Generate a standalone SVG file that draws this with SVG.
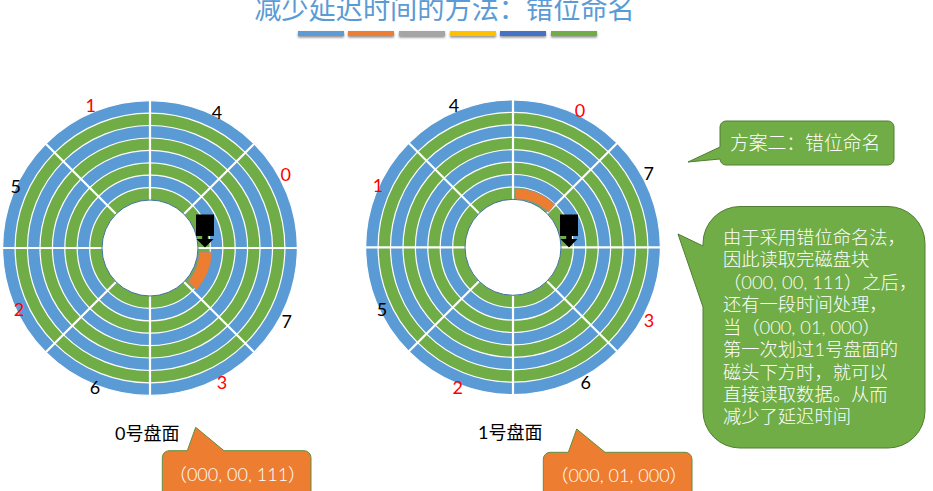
<svg xmlns="http://www.w3.org/2000/svg" width="933" height="491" viewBox="0 0 933 491">
<style>
text{font-family:Lato,"Noto Sans CJK SC",sans-serif}
.b{fill:#5B9BD5;stroke:#fff;stroke-width:1.2}
.g{fill:#70AD47;stroke:#fff;stroke-width:1.2}
.sp{stroke:#fff;stroke-width:2.2}
.hole{fill:#fff;stroke:#41719C;stroke-width:1}
.n{font-size:18px;text-anchor:middle;fill:#000}
.r{font-size:18px;text-anchor:middle;fill:#f00}
.cap{font-size:18px;fill:#000}
.co{fill:#70AD47;stroke:#507E32;stroke-width:1}
.cor{fill:#ED7D31;stroke:#5F8F3E;stroke-width:1}
.w{fill:#fff;font-size:18.300px;font-weight:300}
.wo{fill:#fff;font-size:18px;text-anchor:middle;font-weight:300}
.or{fill:#ED7D31;stroke:#5B9BD5;stroke-width:.6}
</style>
<defs>
<filter id="sh" x="-10%" y="-50%" width="120%" height="220%"><feDropShadow dx="0" dy="1.5" stdDeviation="1" flood-color="#000" flood-opacity=".45"/></filter>
<g id="disk">
<circle class="b" r="147.400"/><circle class="g" r="134.900"/><circle class="b" r="122.500"/><circle class="g" r="110"/><circle class="b" r="97.600"/><circle class="g" r="85.200"/><circle class="b" r="72.800"/><circle class="g" r="60.300"/>
<line class="sp" x1="-149" x2="149"/><line class="sp" y1="-149" y2="149"/><line class="sp" x1="-106" y1="-106" x2="106" y2="106"/><line class="sp" x1="-106" y1="106" x2="106" y2="-106"/>
<circle class="hole" r="48"/>
</g>
<g id="head"><rect x="-9" y="-33" width="18" height="21.500"/><rect x="-2.800" y="-12" width="5.600" height="5"/><polygon points="-8.500,-8.500 8.500,-8.500 0,0"/></g>
</defs>
<g id="title">
<text x="444.500" y="19" font-size="27.200" fill="#5B9BD5" text-anchor="middle" style="font-family:'Noto Sans CJK SC',sans-serif">减少延迟时间的方法：错位命名</text>
<g filter="url(#sh)">
<rect x="298" y="31" width="46" height="5" fill="#5B9BD5"/><rect x="348" y="31" width="46" height="5" fill="#ED7D31"/><rect x="399" y="31" width="46" height="5" fill="#A5A5A5"/><rect x="450" y="31" width="46" height="5" fill="#FFC000"/><rect x="500" y="31" width="46" height="5" fill="#4472C4"/><rect x="551" y="31" width="46" height="5" fill="#70AD47"/>
</g>
</g>
<g id="disk0">
<use href="#disk" x="150" y="248"/>
<path class="or" d="M199,251.700L212.300,252.300A62.500 62.500 0 0 1 196.700,290L187.500,282A49 49 0 0 0 199,251.700Z"/>
<use href="#head" x="205" y="247.500"/>
<text class="r" x="90.700" y="112">1</text><text class="n" x="217" y="118.500">4</text><text class="r" x="285.700" y="181">0</text><text class="n" x="15.700" y="192.500">5</text><text class="n" x="286.700" y="328">7</text><text class="r" x="19" y="316">2</text><text class="n" x="95" y="394">6</text><text class="r" x="222" y="389">3</text>
<text class="cap" x="115" y="440">0号盘面</text>
</g>
<g id="disk1">
<use href="#disk" x="513" y="247.300"/>
<path class="or" d="M515.300,188.500L515.300,198.900A48.500 48.500 0 0 1 548.500,212.200L555,204.200A60 60 0 0 0 515.300,188.500Z"/>
<use href="#head" x="569" y="247.500"/>
<text class="n" x="454" y="112">4</text><text class="r" x="580" y="117">0</text><text class="n" x="648.700" y="180">7</text><text class="r" x="378" y="192">1</text><text class="r" x="649" y="327">3</text><text class="n" x="382" y="316">5</text><text class="r" x="457.700" y="394">2</text><text class="n" x="585.700" y="389">6</text>
<text class="cap" x="478" y="439">1号盘面</text>
</g>
<g id="callout-scheme">
<path class="co" d="M726,121H888A6,6 0 0 1 894,127V159A6,6 0 0 1 888,165H726A6,6 0 0 1 720,159L688,162L720,147V127A6,6 0 0 1 726,121Z"/>
<text class="w" x="730" y="150" style="font-size:18.800px">方案二：错位命名</text>
</g>
<g id="callout-explain">
<path class="co" d="M740,206.500H888A37,37 0 0 1 925,243.500V411A37,37 0 0 1 888,448H740A37,37 0 0 1 703,411V307L678,234L703,246V243.500A37,37 0 0 1 740,206.500Z"/>
<text class="w" x="723" y="244">由于采用错位命名法，</text>
<text class="w" x="723" y="266">因此读取完磁盘块</text>
<text class="w" x="723" y="289">（000, 00, 111）之后，</text>
<text class="w" x="723" y="311">还有一段时间处理，</text>
<text class="w" x="723" y="334">当（000, 01, 000）</text>
<text class="w" x="723" y="356">第一次划过1号盘面的</text>
<text class="w" x="723" y="379">磁头下方时，就可以</text>
<text class="w" x="723" y="401">直接读取数据。从而</text>
<text class="w" x="723" y="423">减少了延迟时间</text>
</g>
<g id="callout-block0">
<path class="cor" d="M169,450.700H187.300L195.700,427.300L224,450.700H304A7,7 0 0 1 311,457.700V500H162.300V457.700A7,7 0 0 1 169,450.700Z"/>
<text class="wo" x="237.500" y="480.500">（000, 00, 111）</text>
</g>
<g id="callout-block1">
<path class="cor" d="M550,452.300H568.300L576.700,429L605,452.300H685A7,7 0 0 1 692,459.300V500H543.300V459.300A7,7 0 0 1 550,452.300Z"/>
<text class="wo" x="619" y="481.500">（000, 01, 000）</text>
</g>
</svg>
